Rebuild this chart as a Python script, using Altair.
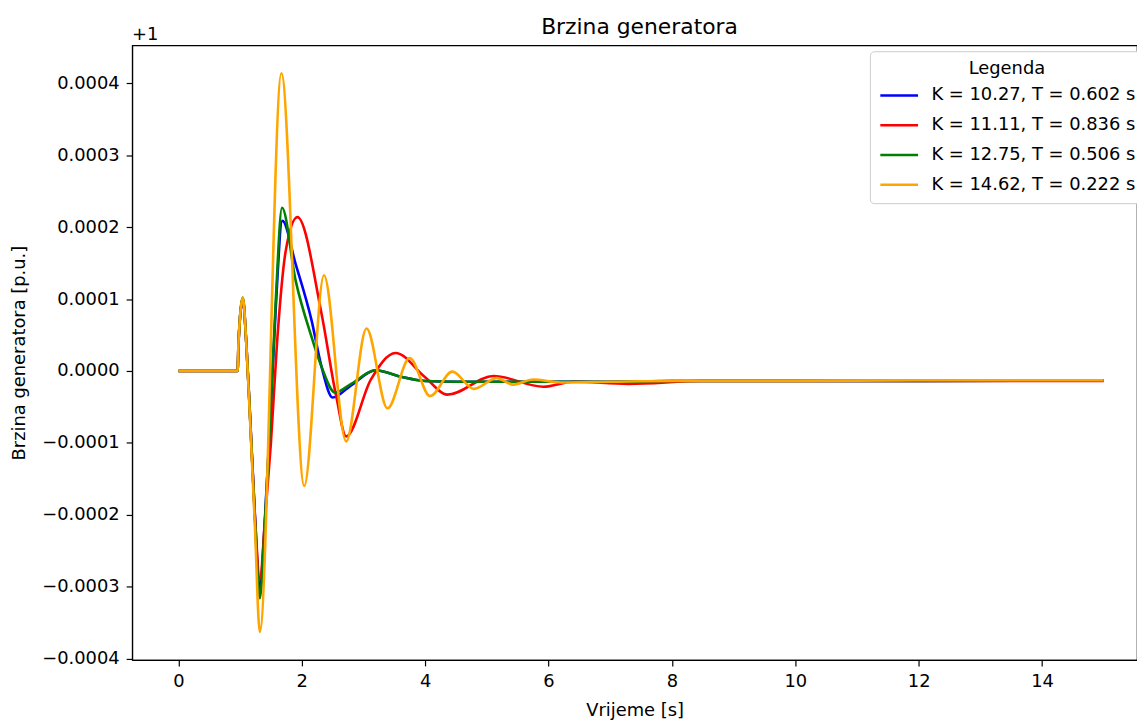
import altair as alt
import pandas as pd

FONT = "DejaVu Sans"

labels = ["K = 10.27, T = 0.602 s", "K = 11.11, T = 0.836 s",
          "K = 12.75, T = 0.506 s", "K = 14.62, T = 0.222 s"]
colors = ["#0000ff", "#ff0000", "#008000", "#ffa500"]

# values are deviations from 1 p.u., in micro p.u. (1e-6)
blue_t = [0, 0.96, 0.975, 1.045, 1.10, 1.16, 1.24, 1.32, 1.40, 1.50, 1.58, 1.685,
          1.90, 2.16, 2.32, 2.50, 2.80, 3.20, 3.60, 4.00, 4.50, 5.0, 6.0, 7.0, 8.0, 10.0, 12.0, 15.0]
blue_v = [0, 0, 40, 100, 40, -60, -200, -305, -210, -50, 90, 209,
          149, 70, 6, -37, -20, 1, -8, -14, -15, -15, -15, -15, -14, -14, -14, -13]

red_t = [0, 0.96, 0.975, 1.045, 1.10, 1.16, 1.24, 1.32, 1.41, 1.50, 1.60, 1.74, 1.93,
         2.32, 2.56, 2.72, 3.12, 3.52, 3.99, 4.36, 5.11, 5.92, 6.40, 7.30, 8.5, 10.0, 12.0, 15.0]
red_v = [0, 0, 40, 100, 40, -60, -200, -289, -200, -100, 40, 167, 214,
         80, -36, -91, -12, 25, -8, -33, -7, -22, -15, -18, -14, -14, -14, -14]

green_t = [0, 0.96, 0.975, 1.045, 1.10, 1.16, 1.24, 1.32, 1.40, 1.50, 1.58, 1.68,
           1.90, 2.16, 2.32, 2.54, 2.80, 3.20, 3.60, 4.00, 4.50, 5.0, 6.0, 7.0, 8.0, 10.0, 12.0, 15.0]
green_v = [0, 0, 40, 102, 40, -60, -205, -316, -215, -45, 100, 227,
           126, 47, 6, -30, -18, 1, -8, -14, -15, -15, -15, -15, -14, -14, -14, -13]

orange_t = [0, 0.96, 0.975, 1.045, 1.10, 1.16, 1.24, 1.32, 1.67, 2.04, 2.36, 2.72,
            3.05, 3.39, 3.75, 4.08, 4.44, 4.79, 5.16, 5.43, 5.75, 6.20, 7.0, 8.0, 10.0, 12.0, 15.0]
orange_v = [0, 0, 40, 102, 40, -65, -215, -363, 414, -160, 133, -98,
            59, -52, 18, -35, -1, -25, -10, -19, -12, -16, -15, -14, -14, -13, -13]

x_ticks = [0, 2, 4, 6, 8, 10, 12, 14]
y_ticks = [-0.0004, -0.0003, -0.0002, -0.0001, 0.0, 0.0001, 0.0002, 0.0003, 0.0004]

rows = []
for lab, ts, vs in zip(labels, [blue_t, red_t, green_t, orange_t],
                       [blue_v, red_v, green_v, orange_v]):
    for i, (t, v) in enumerate(zip(ts, vs)):
        rows.append({"series": lab, "t": t, "v": v * 1e-6, "i": i})
df = pd.DataFrame(rows)

lines = alt.Chart(df).mark_line(strokeWidth=2.6, interpolate="monotone").encode(
    x=alt.X("t:Q",
            scale=alt.Scale(domain=[-0.75, 15.54], nice=False, zero=False),
            axis=alt.Axis(values=x_ticks, format="d", title="Vrijeme [s]",
                          titleY=56, titleBaseline="alphabetic")),
    y=alt.Y("v:Q",
            scale=alt.Scale(domain=[-0.000402, 0.000453], nice=False, zero=False),
            axis=alt.Axis(values=y_ticks, format=".4f",
                          title="Brzina generatora [p.u.]",
                          titleX=-113, titleBaseline="middle")),
    color=alt.Color("series:N",
                    scale=alt.Scale(domain=labels, range=colors),
                    sort=labels,
                    legend=alt.Legend(
                        orient="none", legendX=743, legendY=6,
                        title="Legenda", titleAnchor="middle",
                        titleFontSize=18, titleFontWeight="normal", titleFont=FONT,
                        titleColor="black", titlePadding=-3,
                        labelFontSize=18, labelFont=FONT, labelColor="black",
                        labelLimit=400,
                        labelOffset=12, symbolType="stroke", symbolSize=1444,
                        symbolStrokeWidth=2.6, rowPadding=-9,
                        fillColor="white", strokeColor="#cccccc",
                        cornerRadius=4, padding=9)),
    order="i:Q",
)

texts = pd.DataFrame({"txt": ["+1"]})
offset_text = alt.Chart(texts).mark_text(
    align="left", baseline="alphabetic", fontSize=18, font=FONT, color="black"
).encode(x=alt.value(0), y=alt.value(-5), text="txt:N")

title_text = alt.Chart(pd.DataFrame({"txt": ["Brzina generatora"]})).mark_text(
    align="center", baseline="alphabetic", fontSize=22, font=FONT, color="black"
).encode(x=alt.value(511), y=alt.value(-11), text="txt:N")

chart = alt.layer(lines, offset_text, title_text).properties(
    width=1012, height=619,
    background="white",
    autosize=alt.AutoSizeParams(type="none"),
    padding={"left": 125, "top": 35, "right": 0, "bottom": 64},
).configure_axis(
    labelFont=FONT, titleFont=FONT, labelFontSize=18, titleFontSize=18,
    titleFontWeight="normal", labelColor="black", titleColor="black",
    tickColor="black", domainColor="black", tickSize=6, labelPadding=7,
    grid=False, domainWidth=1.2, tickWidth=1.2,
).configure_view(
    stroke="black", strokeWidth=1.2,
)

chart.save("out.html", embed_options={"renderer": "svg", "actions": False})
